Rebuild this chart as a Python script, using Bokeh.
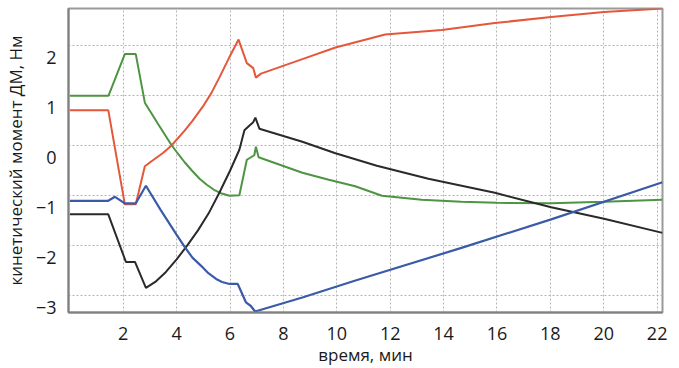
from bokeh.plotting import figure
from bokeh.models import FixedTicker, CustomJSTickFormatter, Range1d
from bokeh.embed import file_html
from bokeh.resources import INLINE

# ---- data (time in minutes, kinetic moment in N·m) ----
green_t = [0, 1.45, 2.06, 2.47, 2.81, 3.3, 3.8, 4.05, 4.3, 4.58, 4.86, 5.13, 5.4, 5.69, 5.98, 6.35, 6.63, 6.91,
           6.97, 7.07, 8.71, 9.7, 10.69, 11.69, 13.18, 14.67, 16.0, 18.03, 20.0, 22.2]
green_v = [1.0, 1.0, 1.83, 1.83, 0.86, 0.44, 0.02, -0.16, -0.33, -0.50, -0.66, -0.78, -0.88, -0.955, -1.0, -0.99,
           -0.28, -0.19, -0.02, -0.23, -0.54, -0.68, -0.81, -1.0, -1.08, -1.12, -1.14, -1.15, -1.12, -1.08]

red_t = [0, 1.44, 2.06, 2.47, 2.81, 3.06, 3.5, 3.8, 4.3, 4.6, 4.98, 5.3, 5.6, 5.95, 6.32, 6.63, 6.87, 6.97, 7.16,
         8.71, 9.95, 11.81, 13.93, 15.92, 18.03, 20.01, 22.2]
red_v = [0.71, 0.71, -1.17, -1.17, -0.41, -0.31, -0.14, 0.0, 0.3, 0.5, 0.78, 1.05, 1.36, 1.74, 2.12, 1.65, 1.55,
         1.36, 1.44, 1.73, 1.96, 2.22, 2.31, 2.45, 2.57, 2.67, 2.74]

black_t = [0, 1.44, 2.1, 2.44, 2.85, 3.2, 3.6, 4.0, 4.4, 4.8, 5.2, 5.6, 6.0, 6.35, 6.54, 6.72, 6.87, 6.95, 7.1,
           8.71, 9.95, 11.5, 13.43, 15.92, 18.03, 20.01, 22.2]
black_v = [-1.37, -1.37, -2.32, -2.32, -2.84, -2.72, -2.52, -2.27, -1.99, -1.69, -1.35, -0.94, -0.5, -0.08, 0.31,
           0.40, 0.47, 0.56, 0.34, 0.08, -0.15, -0.4, -0.66, -0.94, -1.23, -1.46, -1.74]

blue_t = [0, 1.44, 1.69, 2.06, 2.47, 2.85, 3.4, 3.99, 4.3, 4.6, 4.98, 5.2, 5.48, 5.7, 5.98, 6.29, 6.6, 6.78, 6.94,
          8.71, 10.7, 14.67, 18.03, 22.2]
blue_v = [-1.1, -1.1, -1.02, -1.15, -1.15, -0.80, -1.28, -1.77, -2.02, -2.24, -2.43, -2.55, -2.66, -2.72, -2.76,
          -2.76, -3.13, -3.2, -3.31, -3.03, -2.69, -2.04, -1.47, -0.73]

x_ticks = [2, 4, 6, 8, 10, 12, 14, 16, 18, 20, 22]
y_ticks = [2, 1, 0, -1, -2, -3]
y_tick_labels = ["2", "1", "0", "\u22121", "\u22122", "\u22123"]

x_title = "время, мин"
y_title = "кинетический момент ДМ, Нм"

FONT = "Open Sans"
label_shift = 0.24  # labels sit slightly below their grid lines in the original

p = figure(width=679, height=368, output_backend="svg", toolbar_location=None,
           x_range=Range1d(-0.05, 22.2), y_range=Range1d(-3.33, 2.74))
p.min_border_left = 65
p.min_border_right = 17
p.min_border_top = 8
p.min_border_bottom = 48
p.background_fill_color = "white"
p.border_fill_color = "white"
p.outline_line_color = "#9a9a9a"
p.outline_line_width = 2

p.line(green_t, green_v, line_color="#4e9443", line_width=2)
p.line(red_t, red_v, line_color="#e5573a", line_width=2)
p.line(black_t, black_v, line_color="#2a2a2a", line_width=2)
p.line(blue_t, blue_v, line_color="#3b5ba8", line_width=2.2)

# axes
p.xaxis.ticker = FixedTicker(ticks=x_ticks)
p.yaxis.ticker = FixedTicker(ticks=[v - label_shift for v in y_ticks])
p.yaxis.formatter = CustomJSTickFormatter(
    args=dict(vals=y_ticks, labs=y_tick_labels, shift=label_shift),
    code="""
    for (let i = 0; i < vals.length; i++) {
        if (Math.abs(vals[i] - shift - tick) < 1e-6) return labs[i];
    }
    return '';
    """)
for ax in (p.xaxis, p.yaxis):
    ax.major_tick_line_color = None
    ax.minor_tick_line_color = None
    ax.axis_line_color = "#808080"
    ax.axis_line_width = 2
    ax.major_label_text_font = FONT
    ax.major_label_text_font_size = "18px"
    ax.major_label_text_color = "#1a1a1a"
    ax.axis_label_text_font = FONT
    ax.axis_label_text_font_size = "17px"
    ax.axis_label_text_font_style = "normal"
    ax.axis_label_text_color = "#1a1a1a"
p.xaxis.major_label_standoff = 8
p.yaxis.major_label_standoff = 6
p.xaxis.axis_label = x_title
p.yaxis.axis_label = y_title
p.xaxis.axis_label_standoff = 0
p.yaxis.axis_label_standoff = 6

# grid
p.xgrid.ticker = FixedTicker(ticks=x_ticks)
p.ygrid.ticker = FixedTicker(ticks=y_ticks)
for g in (p.xgrid, p.ygrid):
    g.grid_line_color = "#b5b5b5"
    g.grid_line_dash = "2 2"
    g.grid_line_width = 1

open("out.html", "w").write(file_html(p, INLINE))
